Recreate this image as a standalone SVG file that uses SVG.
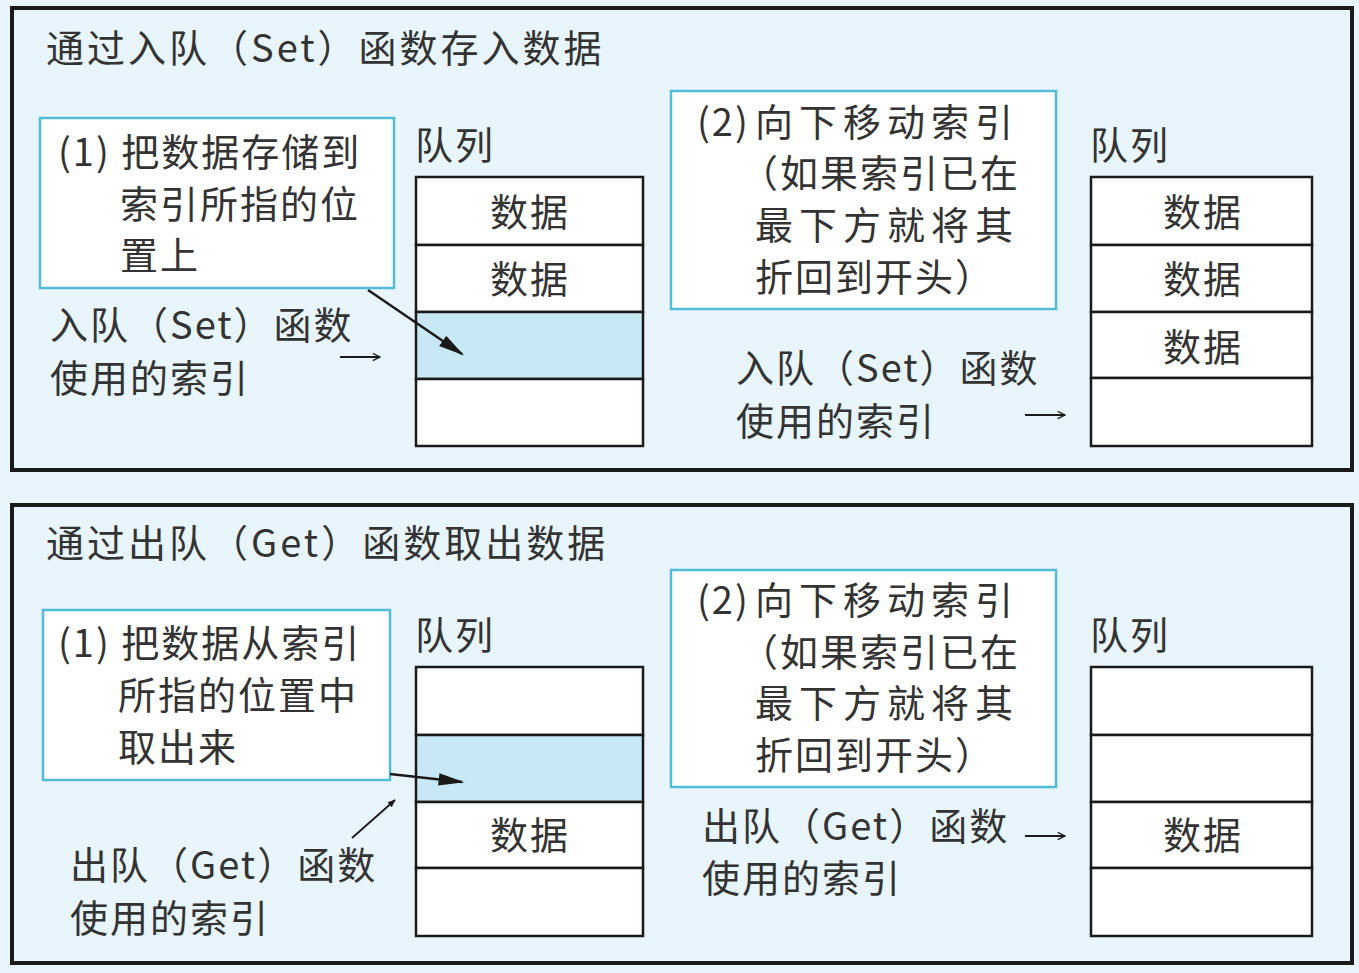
<svg xmlns="http://www.w3.org/2000/svg" width="1359" height="973" viewBox="0 0 1359 973">
  <style>
    text { font-family: "Noto Sans CJK SC", "Noto Sans", sans-serif; font-size: 38px; fill: #333333; letter-spacing: 2px; }
    .title { letter-spacing: 3px; }
    .panel { fill: #e8f5fc; stroke: #1a1a1a; stroke-width: 4; }
    .note { fill: #ffffff; stroke: #52bcd6; stroke-width: 2.5; }
    .cell { fill: #ffffff; stroke: #1a1a1a; stroke-width: 2.5; }
    .cur { fill: #c9e8f5; stroke: #1a1a1a; stroke-width: 2.5; }
    .mid { text-anchor: middle; }
    .wide { letter-spacing: 6px; }
    .ptr { fill: none; stroke: #1a1a1a; stroke-width: 2.5; }
    .thin { fill: none; stroke: #1a1a1a; stroke-width: 1.8; }
  </style>
  <defs>
    <marker id="solid" viewBox="0 0 10 10" refX="9" refY="5" markerWidth="8" markerHeight="8" markerUnits="userSpaceOnUse" orient="auto">
      <path d="M0,1 L10,5 L0,9 z" fill="#1a1a1a"/>
    </marker>
    <marker id="big" viewBox="0 0 10 10" refX="9" refY="5" markerWidth="26" markerHeight="26" markerUnits="userSpaceOnUse" orient="auto">
      <path d="M0,2.6 L10,5 L0,7.4 z" fill="#1a1a1a"/>
    </marker>
    <marker id="open" viewBox="0 0 10 10" refX="9" refY="5" markerWidth="9" markerHeight="9" markerUnits="userSpaceOnUse" orient="auto">
      <path d="M1,1 L9,5 L1,9" fill="none" stroke="#1a1a1a" stroke-width="1.4"/>
    </marker>
  </defs>

  <rect x="0" y="0" width="1359" height="973" fill="#e8f5fc"/>

  <!-- Enqueue panel -->
  <g id="panel-set">
    <rect class="panel" x="12" y="8" width="1340" height="462"/>
    <text class="title" x="46" y="62">通过入队（Set）函数存入数据</text>
  </g>

  <g id="set-step1">
    <rect class="note" x="40" y="118" width="354" height="170"/>
    <text x="58" y="166">(1) 把数据存储到</text>
    <text x="120" y="218">索引所指的位</text>
    <text x="120" y="269">置上</text>
  </g>

  <g id="set-queue-a">
    <text x="415" y="159">队列</text>
    <rect class="cell" x="416" y="177" width="227" height="68"/>
    <rect class="cell" x="416" y="245" width="227" height="67"/>
    <rect class="cur" x="416" y="312" width="227" height="67"/>
    <rect class="cell" x="416" y="379" width="227" height="67"/>
    <text class="mid" x="530" y="226">数据</text>
    <text class="mid" x="530" y="293">数据</text>
  </g>

  <g id="set-index-a">
    <text x="50" y="339">入队（Set）函数</text>
    <text x="50" y="392">使用的索引</text>
  </g>

  <g id="set-step2">
    <rect class="note" x="671" y="91" width="385" height="218"/>
    <text x="697" y="136">(2)<tspan x="755" class="wide">向下移动索引</tspan></text>
    <text x="740" y="187">（如果索引已在</text>
    <text x="755" y="239" class="wide">最下方就将其</text>
    <text x="755" y="291">折回到开头）</text>
  </g>

  <g id="set-queue-b">
    <text x="1090" y="159">队列</text>
    <rect class="cell" x="1091" y="177" width="221" height="68"/>
    <rect class="cell" x="1091" y="245" width="221" height="67"/>
    <rect class="cell" x="1091" y="312" width="221" height="66"/>
    <rect class="cell" x="1091" y="378" width="221" height="68"/>
    <text class="mid" x="1203" y="226">数据</text>
    <text class="mid" x="1203" y="293">数据</text>
    <text class="mid" x="1203" y="361">数据</text>
  </g>

  <g id="set-index-b">
    <text x="736" y="382">入队（Set）函数</text>
    <text x="736" y="435">使用的索引</text>
  </g>

  <!-- Dequeue panel -->
  <g id="panel-get">
    <rect class="panel" x="12" y="505" width="1340" height="458"/>
    <text class="title" x="46" y="557">通过出队（Get）函数取出数据</text>
  </g>

  <g id="get-step1">
    <rect class="note" x="43" y="610" width="347" height="170"/>
    <text x="58" y="657">(1) 把数据从索引</text>
    <text x="118" y="709">所指的位置中</text>
    <text x="118" y="761">取出来</text>
  </g>

  <g id="get-queue-a">
    <text x="415" y="649">队列</text>
    <rect class="cell" x="416" y="667" width="227" height="68"/>
    <rect class="cur" x="416" y="735" width="227" height="67"/>
    <rect class="cell" x="416" y="802" width="227" height="66"/>
    <rect class="cell" x="416" y="868" width="227" height="68"/>
    <text class="mid" x="530" y="849">数据</text>
  </g>

  <g id="get-index-a">
    <text x="70" y="879">出队（Get）函数</text>
    <text x="70" y="932">使用的索引</text>
  </g>

  <g id="get-step2">
    <rect class="note" x="671" y="570" width="385" height="217"/>
    <text x="697" y="614">(2)<tspan x="755" class="wide">向下移动索引</tspan></text>
    <text x="740" y="666">（如果索引已在</text>
    <text x="755" y="717" class="wide">最下方就将其</text>
    <text x="755" y="769">折回到开头）</text>
  </g>

  <g id="get-queue-b">
    <text x="1090" y="649">队列</text>
    <rect class="cell" x="1091" y="667" width="221" height="68"/>
    <rect class="cell" x="1091" y="735" width="221" height="67"/>
    <rect class="cell" x="1091" y="802" width="221" height="66"/>
    <rect class="cell" x="1091" y="868" width="221" height="68"/>
    <text class="mid" x="1203" y="849">数据</text>
  </g>

  <g id="get-index-b">
    <text x="702" y="840">出队（Get）函数</text>
    <text x="702" y="892">使用的索引</text>
  </g>

  <!-- Connectors -->
  <g id="connectors">
    <path class="ptr" d="M368,290 L462,354" marker-end="url(#big)"/>
    <path class="thin" d="M340,357 L380,357" marker-end="url(#open)"/>
    <path class="thin" d="M1025,415 L1065,415" marker-end="url(#open)"/>
    <path class="ptr" d="M390,774 L462,782" marker-end="url(#big)"/>
    <path class="thin" d="M352,838 L395,800" marker-end="url(#solid)"/>
    <path class="thin" d="M1025,836 L1065,836" marker-end="url(#open)"/>
  </g>
</svg>
